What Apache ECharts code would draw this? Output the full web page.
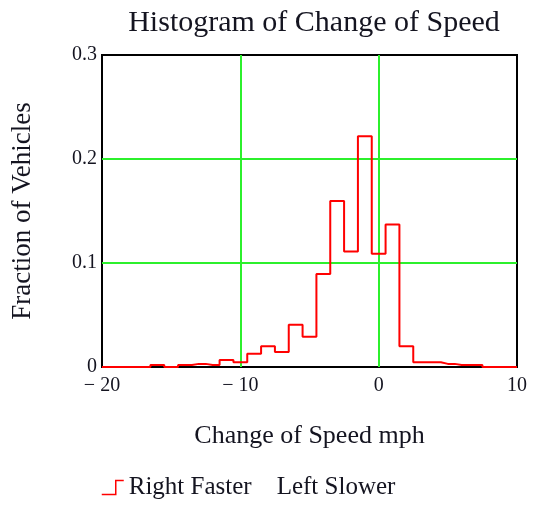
<!DOCTYPE html>
<html><head><meta charset="utf-8">
<script src="https://cdn.jsdelivr.net/npm/echarts@6/dist/echarts.min.js"></script>
<style>html,body{margin:0;padding:0;background:#fff}#c{width:536px;height:506px}</style>
</head><body><div id="c"></div>
<script>
// bin centers (mph), 1 mph wide bins
const binCenters = [-20,-19,-18,-17,-16,-15,-14,-13,-12,-11,-10,-9,-8,-7,-6,-5,-4,-3,-2,-1,0,1,2,3,4,5,6,7,8,9,10];
const fraction   = [0,0,0,0,0.002,0,0.002,0.003,0.002,0.0067,0.0045,0.0128,0.0199,0.0144,0.0407,0.029,0.0894,0.1596,0.111,0.2218,0.109,0.137,0.0199,0.0045,0.0045,0.003,0.002,0.002,0,0,0];
const xTicks = [-20,-10,0,10];
const yTicks = [0,0.1,0.2,0.3];
const seriesName = 'Right Faster    Left Slower';

const font = '"Liberation Serif","Times New Roman",serif';
const green = '#2cf02c';
const txt = '#141420';
const chart = echarts.init(document.getElementById('c'), null, {renderer:'canvas'});
chart.setOption({
  animation:false,
  backgroundColor:'#fff',
  title:{text:'Histogram of Change of Speed',left:309,top:3,textAlign:'center',
    textStyle:{fontFamily:font,fontSize:30,fontWeight:'normal',color:txt}},
  grid:{left:102,right:19,top:55,bottom:139,show:true,borderColor:'#000',borderWidth:2,backgroundColor:'transparent'},
  legend:{left:96,top:470,itemWidth:22,itemHeight:14,itemGap:8,
    icon:'path://M0,14 L14,14 L14,0 L22,0',
    itemStyle:{color:'transparent',borderColor:'#ff0000',borderWidth:1.5},
    textStyle:{fontFamily:font,fontSize:25,color:txt},
    data:[seriesName]},
  xAxis:{type:'value',min:xTicks[0],max:xTicks[xTicks.length-1],interval:10,
    name:'Change of Speed mph',nameLocation:'middle',nameGap:56,
    nameTextStyle:{fontFamily:font,fontSize:26,color:txt},
    axisLine:{show:false},axisTick:{show:false},
    splitLine:{show:true,lineStyle:{color:['transparent',green,green,'transparent'],width:2}},
    axisLabel:{fontFamily:font,fontSize:20,color:txt,margin:9,
      formatter:v=>v<0?'\u2212 '+Math.abs(v):String(v)}},
  yAxis:{type:'value',min:yTicks[0],max:yTicks[yTicks.length-1],interval:0.1,
    name:'Fraction of Vehicles',nameLocation:'middle',nameGap:66,nameRotate:90,
    nameTextStyle:{fontFamily:font,fontSize:27,color:txt},
    axisLine:{show:false},axisTick:{show:false},
    splitLine:{show:true,lineStyle:{color:['transparent',green,green,'transparent'],width:2}},
    axisLabel:{fontFamily:font,fontSize:20,color:txt,margin:5,
      formatter:v=>v===0?'0':String(Math.round(v*10)/10)}},
  series:[{name:seriesName,type:'line',step:'middle',showSymbol:false,
    data:binCenters.map((x,i)=>[x,fraction[i]]),
    lineStyle:{color:'#ff0000',width:2},itemStyle:{color:'#ff0000'}}]
});
</script></body></html>
